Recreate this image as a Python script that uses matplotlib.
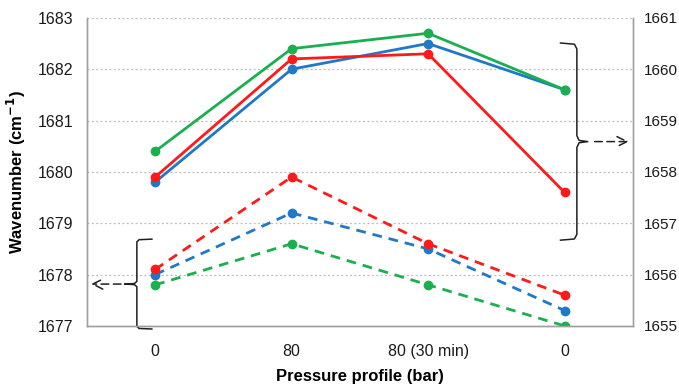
import numpy as np
import matplotlib.pyplot as plt

plt.rcParams['font.family'] = ['Liberation Sans', 'DejaVu Sans']

# Pressure steps
categories = ["0", "80", "80 (30 min)", "0"]

# Solid lines -> right axis (cm-1)
solid_green = [1658.4, 1660.4, 1660.7, 1659.6]
solid_red = [1657.9, 1660.2, 1660.3, 1657.6]
solid_blue = [1657.8, 1660.0, 1660.5, 1659.6]

# Dashed lines -> left axis (cm-1)
dash_red = [1678.1, 1679.9, 1678.6, 1677.6]
dash_blue = [1678.0, 1679.2, 1678.5, 1677.3]
dash_green = [1677.8, 1678.6, 1677.8, 1677.0]

left_ticks = [1677, 1678, 1679, 1680, 1681, 1682, 1683]
right_ticks = [1655, 1656, 1657, 1658, 1659, 1660, 1661]

red = "#ff1a1a"
green = "#1aaf4f"
blue = "#1f78c8"

fig = plt.figure(figsize=(6.79, 3.88), dpi=100)
ax = fig.add_axes([0.128, 0.160, 0.804, 0.794])
ax2 = ax.twinx()

x = np.arange(len(categories))
dash = (0, (3.5, 2.5))

for vals, c in [(dash_green, green), (dash_blue, blue), (dash_red, red)]:
    ax.plot(x, vals, color=c, lw=2, linestyle=dash, marker="o", markersize=6, zorder=3)
for vals, c in [(solid_blue, blue), (solid_red, red), (solid_green, green)]:
    ax2.plot(x, vals, color=c, lw=2, marker="o", markersize=6, zorder=3)

ax.set_xlim(-0.5, 3.5)
ax.set_ylim(1677, 1683)
ax2.set_ylim(1655, 1661)
ax.set_yticks(left_ticks)
ax2.set_yticks(right_ticks)
ax.set_xticks(x)
ax.set_xticklabels(categories)

ax.yaxis.grid(True, linestyle=(0, (1.5, 2)), color="#bbbbbb", lw=0.9)
ax.set_axisbelow(True)

for a in (ax, ax2):
    a.spines["top"].set_visible(False)
    for s in ("left", "right", "bottom"):
        a.spines[s].set_color("#a0a0a0")
        a.spines[s].set_linewidth(1)
    a.tick_params(length=0, labelsize=11.5, colors="#1a1a1a")
ax.tick_params(axis="y", pad=10)
ax2.tick_params(axis="y", pad=8, labelsize=11)
ax.tick_params(axis="x", pad=13)

ax.set_ylabel(r"Wavenumber (cm$^{\mathbf{-1}}$)", fontsize=12, fontweight="bold", labelpad=7)
ax.set_xlabel("Pressure profile (bar)", fontsize=12, fontweight="bold", labelpad=7)


def brace(axis, xs, y0, y1, hook, tip):
    # curly bracket drawn as a polyline, hook/tip in x units
    ym = (y0 + y1) / 2
    r = (y1 - y0) * 0.03
    px = [xs + hook, xs + hook * 0.15, xs, xs, xs + tip * 0.2, xs + tip,
          xs + tip * 0.2, xs, xs, xs + hook * 0.15, xs + hook]
    py = [y1, y1 - r * 0.2, y1 - r, ym + r, ym + r * 0.2, ym,
          ym - r * 0.2, ym - r, y0 + r, y0 + r * 0.2, y0]
    axis.plot(px, py, color="#202020", lw=1.1, clip_on=False, zorder=4)
    return ym


arrow = dict(arrowstyle="->", color="#202020", lw=1.1,
             linestyle=(0, (5, 3)), mutation_scale=18)

# right bracket (solid lines, right axis)
ym = brace(ax, 3.09, 1678.67, 1682.51, -0.12, 0.08)
ax.annotate("", xy=(3.49, ym), xytext=(3.2, ym), arrowprops=arrow)

# left bracket (dashed lines, left axis)
ym = brace(ax, -0.134, 1676.94, 1678.69, 0.11, -0.09)
ax.annotate("", xy=(-0.49, ym), xytext=(-0.23, ym), arrowprops=arrow,
            annotation_clip=False)

fig.savefig("out.png", dpi=100)
